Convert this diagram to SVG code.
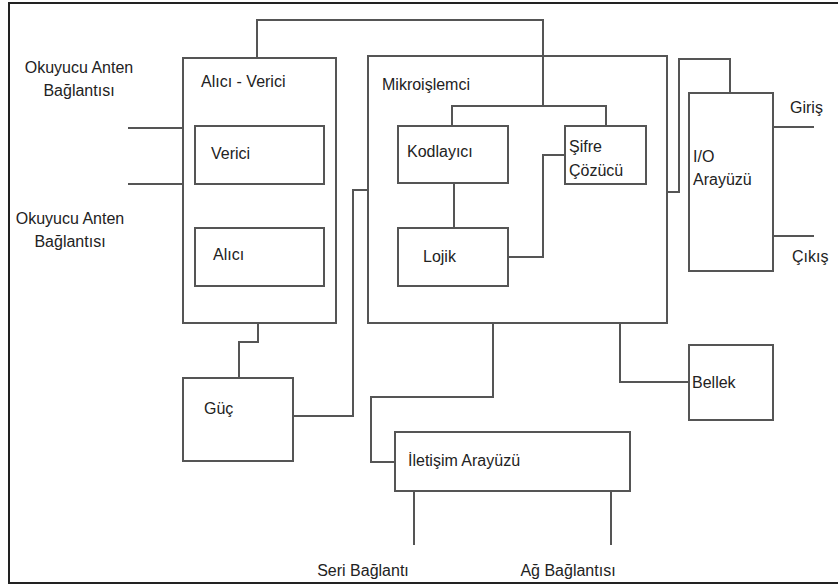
<svg xmlns="http://www.w3.org/2000/svg" width="838" height="585" viewBox="0 0 838 585">
<style>
.box{fill:#fff;stroke:#555;stroke-width:2}
.ln{fill:none;stroke:#555;stroke-width:2}
text{font-family:"Liberation Sans",Arial,sans-serif;font-size:16px;fill:#222}
</style>
<rect x="0" y="0" width="838" height="585" fill="#fff"/>
<rect x="9" y="3" width="840" height="580" fill="none" stroke="#222" stroke-width="2"/>
<g id="connectors">
<polyline class="ln" points="257,58 257,20 543,20 543,106"/>
<polyline class="ln" points="452,126 452,106 606,106 606,126"/>
<polyline class="ln" points="368,190 353,190 353,416 293,416"/>
<line class="ln" x1="128" y1="128" x2="183" y2="128"/>
<line class="ln" x1="128" y1="184" x2="183" y2="184"/>
<polyline class="ln" points="258,323 258,342 239,342 239,378"/>
<line class="ln" x1="454" y1="183" x2="454" y2="228"/>
<polyline class="ln" points="508,257 543,257 543,155 565,155"/>
<polyline class="ln" points="667,192 679,192 679,59 730,59 730,93"/>
<line class="ln" x1="773" y1="127" x2="814" y2="127"/>
<line class="ln" x1="773" y1="236" x2="814" y2="236"/>
<polyline class="ln" points="620,323 620,382 689,382"/>
<polyline class="ln" points="493,323 493,397 371,397 371,462 395,462"/>
<line class="ln" x1="414" y1="491" x2="414" y2="545"/>
<line class="ln" x1="611" y1="491" x2="611" y2="545"/>
</g>
<g id="labels">
<text x="79" y="73" text-anchor="middle">Okuyucu Anten</text>
<text x="79" y="96" text-anchor="middle">Bağlantısı</text>
<text x="70" y="224" text-anchor="middle">Okuyucu Anten</text>
<text x="70" y="247" text-anchor="middle">Bağlantısı</text>
<text x="790" y="113">Giriş</text>
<text x="792" y="262">Çıkış</text>
<text x="363" y="576" text-anchor="middle">Seri Bağlantı</text>
<text x="568" y="576" text-anchor="middle">Ağ Bağlantısı</text>
</g>
<g id="alici-verici">
<rect class="box" x="183" y="58" width="153" height="265"/>
<text x="201" y="87">Alıcı - Verici</text>
</g>
<g id="verici">
<rect class="box" x="195" y="126" width="129" height="58"/>
<text x="211" y="159">Verici</text>
</g>
<g id="alici">
<rect class="box" x="195" y="228" width="129" height="58"/>
<text x="213" y="260">Alıcı</text>
</g>
<g id="mikroislemci">
<rect class="box" x="368" y="56" width="299" height="267" fill-opacity="0"/>
<text x="382" y="90">Mikroişlemci</text>
</g>
<g id="kodlayici">
<rect class="box" x="398" y="126" width="110" height="57"/>
<text x="407" y="157">Kodlayıcı</text>
</g>
<g id="lojik">
<rect class="box" x="398" y="228" width="110" height="58"/>
<text x="423" y="262">Lojik</text>
</g>
<g id="sifre-cozucu">
<rect class="box" x="565" y="126" width="81" height="58"/>
<text x="569" y="152">Şifre</text>
<text x="569" y="176">Çözücü</text>
</g>
<g id="io-arayuzu">
<rect class="box" x="689" y="93" width="84" height="178"/>
<text x="693" y="162">I/O</text>
<text x="693" y="185">Arayüzü</text>
</g>
<g id="guc">
<rect class="box" x="183" y="378" width="110" height="83"/>
<text x="204" y="414">Güç</text>
</g>
<g id="bellek">
<rect class="box" x="689" y="345" width="84" height="75"/>
<text x="692" y="388">Bellek</text>
</g>
<g id="iletisim-arayuzu">
<rect class="box" x="395" y="432" width="235" height="59"/>
<text x="408" y="466">İletişim Arayüzü</text>
</g>
</svg>
